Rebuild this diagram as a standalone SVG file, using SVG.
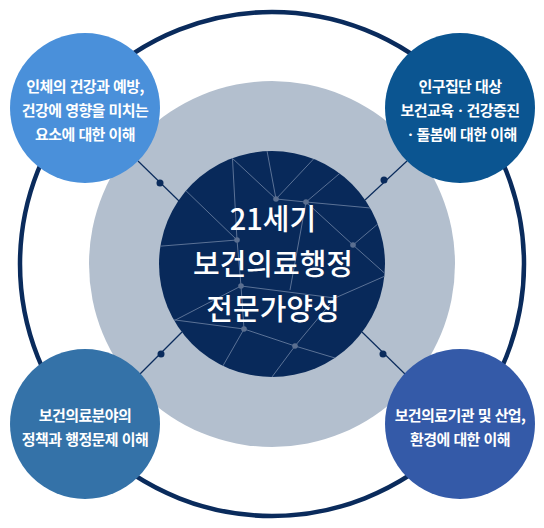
<svg xmlns="http://www.w3.org/2000/svg" width="544" height="528" viewBox="0 0 544 528">
<defs>
<style>
.ring{fill:none;stroke:#0a2b5c;stroke-width:4.5}
.net{stroke:#5b7296;stroke-width:1;fill:none}
.nd{fill:#5b6f90}
.con{stroke:#0a2b5c;stroke-width:1.2}
.dot{fill:#0a2b5c}
.st{font-family:"Noto Sans CJK KR","Noto Sans",sans-serif;font-size:15px;font-weight:700;fill:#fff;text-anchor:middle;letter-spacing:-0.6px;word-spacing:1px}
.ct{font-family:"Noto Sans CJK KR","Noto Sans",sans-serif;font-size:29px;font-weight:500;fill:#fff;text-anchor:middle;letter-spacing:0px}
</style>
<clipPath id="cc"><circle cx="272" cy="264" r="113"/></clipPath>
</defs>
<circle class="ring" cx="272" cy="264" r="252"/>
<circle cx="272" cy="264" r="183" fill="#b3bfce"/>
<g id="connectors">
<line class="con" x1="138" y1="161" x2="179" y2="201"/>
<circle class="dot" cx="160" cy="183" r="3.5"/>
<line class="con" x1="407" y1="161" x2="365" y2="200"/>
<circle class="dot" cx="384" cy="180" r="3.5"/>
<line class="con" x1="138" y1="376" x2="182" y2="332"/>
<circle class="dot" cx="161" cy="354" r="3.5"/>
<line class="con" x1="407" y1="376" x2="362" y2="332"/>
<circle class="dot" cx="383" cy="354" r="3.5"/>
</g>
<g id="center">
<circle cx="272" cy="264" r="113" fill="#08295a"/>
<g clip-path="url(#cc)" class="net">
<line x1="265" y1="140" x2="276" y2="199"/>
<line x1="232" y1="150" x2="237" y2="240"/>
<line x1="232" y1="158" x2="276" y2="199"/>
<line x1="180" y1="185" x2="237" y2="240"/>
<line x1="276" y1="199" x2="322" y2="150"/>
<line x1="276" y1="199" x2="306" y2="202"/>
<line x1="306" y1="202" x2="392" y2="210"/>
<line x1="306" y1="202" x2="352" y2="163"/>
<line x1="306" y1="202" x2="353" y2="245"/>
<line x1="306" y1="202" x2="290" y2="290"/>
<line x1="353" y1="245" x2="392" y2="212"/>
<line x1="353" y1="245" x2="390" y2="278"/>
<line x1="150" y1="247" x2="237" y2="240"/>
<line x1="237" y1="240" x2="241" y2="286"/>
<line x1="241" y1="286" x2="244" y2="329"/>
<line x1="160" y1="328" x2="241" y2="286"/>
<line x1="160" y1="318" x2="244" y2="329"/>
<line x1="244" y1="329" x2="212" y2="385"/>
<line x1="244" y1="329" x2="295" y2="346"/>
<line x1="295" y1="346" x2="335" y2="298"/>
<line x1="335" y1="298" x2="392" y2="273"/>
<line x1="295" y1="346" x2="266" y2="385"/>
<line x1="295" y1="346" x2="345" y2="361"/>
<line x1="241" y1="286" x2="335" y2="298"/>
</g>
<g class="nd">
<circle cx="276" cy="199" r="2.8"/>
<circle cx="306" cy="202" r="2.8"/>
<circle cx="237" cy="240" r="2.8"/>
<circle cx="353" cy="245" r="2.8"/>
<circle cx="241" cy="286" r="2.8"/>
<circle cx="244" cy="329" r="2.8"/>
<circle cx="295" cy="346" r="2.8"/>
</g>
<text class="ct" x="273" y="230">21세기</text>
<text class="ct" x="273" y="275">보건의료행정</text>
<text class="ct" x="273" y="320">전문가양성</text>
</g>
<g id="node-tl">
<circle cx="85" cy="108" r="75" fill="#4a90da"/>
<text class="st" x="85" y="92">인체의 건강과 예방,</text>
<text class="st" x="85" y="116">건강에 영향을 미치는</text>
<text class="st" x="85" y="140">요소에 대한 이해</text>
</g>
<g id="node-tr">
<circle cx="460" cy="108" r="75" fill="#0b5591"/>
<text class="st" x="460" y="92">인구집단 대상</text>
<text class="st" x="460" y="116">보건교육ㆍ건강증진</text>
<text class="st" x="460" y="140">ㆍ돌봄에 대한 이해</text>
</g>
<g id="node-bl">
<circle cx="85" cy="424" r="75" fill="#3472a8"/>
<text class="st" x="85" y="421">보건의료분야의</text>
<text class="st" x="85" y="445">정책과 행정문제 이해</text>
</g>
<g id="node-br">
<circle cx="460" cy="424" r="75" fill="#345aa8"/>
<text class="st" x="460" y="421">보건의료기관 및 산업,</text>
<text class="st" x="460" y="445">환경에 대한 이해</text>
</g>
</svg>
